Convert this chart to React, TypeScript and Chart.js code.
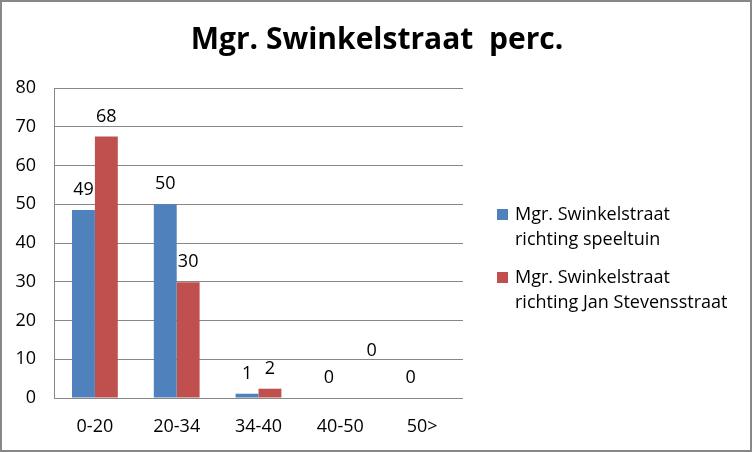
import { Chart, registerables } from 'chart.js'
import { useEffect, useRef } from 'react'

Chart.register(...registerables)

const categories = ['0-20', '20-34', '34-40', '40-50', '50>']
const speeltuin = [48.5, 50, 1.1, 0, 0]
const janStevens = [67.5, 29.9, 2.4, 0, 0]
const seriesNames = [
	'Mgr. Swinkelstraat\nrichting speeltuin',
	'Mgr. Swinkelstraat\nrichting Jan Stevensstraat'
]
const title = 'Mgr. Swinkelstraat  perc.'

const FONT = "'Open Sans', sans-serif"
const GRID = '#878787'

// labels that were moved or left out in the original sheet
const labelTweaks: Record<string, { dx: number; dy: number } | null> = {
	'1-3': { dx: 20, dy: -27 },
	'1-4': null
}

const decorPlugin = {
	id: 'decor',
	afterDatasetsDraw(chart: Chart) {
		const { ctx } = chart
		ctx.save()
		ctx.fillStyle = '#000'
		ctx.font = `18px ${FONT}`
		ctx.textAlign = 'center'
		ctx.textBaseline = 'middle'
		chart.data.datasets.forEach((ds, di) => {
			chart.getDatasetMeta(di).data.forEach((bar: any, i) => {
				const key = `${di}-${i}`
				const tweak = key in labelTweaks ? labelTweaks[key] : { dx: 0, dy: 0 }
				if (tweak === null) return
				const v = ds.data[i] as number
				ctx.fillText(String(Math.round(v)), bar.x + tweak.dx, bar.y - 20 + tweak.dy)
			})
		})
		ctx.restore()
	},
	afterDraw(chart: Chart) {
		const { ctx, width, height } = chart
		ctx.save()
		// title
		ctx.fillStyle = '#000'
		ctx.font = `bold 30px ${FONT}`
		ctx.textAlign = 'center'
		ctx.textBaseline = 'middle'
		ctx.fillText(title, width / 2 + 1, 40)

		// legend on the right
		ctx.font = `18px ${FONT}`
		ctx.textAlign = 'left'
		chart.data.datasets.forEach((ds, di) => {
			const y0 = 215 + di * 63
			ctx.fillStyle = ds.backgroundColor as string
			ctx.fillRect(497, y0 - 6, 11, 11)
			ctx.fillStyle = '#000'
			String(ds.label)
				.split('\n')
				.forEach((line, li) => ctx.fillText(line, 515, y0 + li * 25))
		})

		// outer frame
		ctx.strokeStyle = GRID
		ctx.lineWidth = 2
		ctx.strokeRect(1, 1, width - 2, height - 2)
		ctx.restore()
	}
}

export default function App() {
	const canvasRef = useRef<HTMLCanvasElement | null>(null)

	useEffect(() => {
		document.body.style.margin = '0'
		if (!canvasRef.current) return

		const chart = new Chart(canvasRef.current, {
			type: 'bar',
			data: {
				labels: categories,
				datasets: [
					{
						label: seriesNames[0],
						data: speeltuin,
						backgroundColor: '#4F81BD',
						categoryPercentage: 0.56,
						barPercentage: 1
					},
					{
						label: seriesNames[1],
						data: janStevens,
						backgroundColor: '#C0504D',
						categoryPercentage: 0.56,
						barPercentage: 1
					}
				]
			},
			options: {
				animation: false,
				responsive: true,
				maintainAspectRatio: false,
				layout: { padding: { top: 88, right: 289, left: 0, bottom: 0 } },
				scales: {
					x: {
						afterFit: (s: any) => {
							s.height = 54
						},
						grid: { display: false, drawTicks: false },
						border: { display: false },
						ticks: { color: '#000', font: { family: FONT, size: 18 }, padding: 18 }
					},
					y: {
						min: 0,
						max: 80,
						afterFit: (s: any) => {
							s.width = 54
						},
						ticks: { stepSize: 10, color: '#000', font: { family: FONT, size: 18 }, padding: 18 },
						grid: { color: GRID, drawTicks: false },
						border: { display: true, color: GRID }
					}
				},
				plugins: {
					legend: { display: false },
					title: { display: false },
					tooltip: { enabled: false }
				}
			},
			plugins: [decorPlugin]
		})

		return () => chart.destroy()
	}, [])

	return (
		<div style={{ width: 752, height: 452, position: 'relative', background: '#fff' }}>
			<canvas ref={canvasRef} />
		</div>
	)
}
